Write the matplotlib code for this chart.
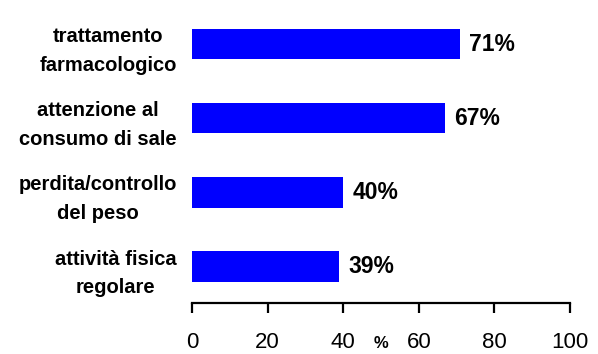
import matplotlib
matplotlib.use("Agg")
import matplotlib.pyplot as plt

# data, bottom to top
categories = ["attività fisica\nregolare", "perdita/controllo\ndel peso",
              "attenzione al\nconsumo di sale", "trattamento\nfarmacologico"]
values = [39, 40, 67, 71]
xticks = [0, 20, 40, 60, 80, 100]

plt.rcParams["font.family"] = ["Liberation Sans", "DejaVu Sans"]

fig = plt.figure(figsize=(5.98, 3.54), dpi=100)
ax = fig.add_axes([192 / 598, 51 / 354, 378 / 598, 296 / 354])

pos = range(len(values))
ax.barh(pos, values, height=0.41, color="#0000FF")

for p, v in zip(pos, values):
    ax.text(v + 2.4, p, f"{v}%", va="center", ha="left",
            fontsize=16.5, fontweight="bold")

ax.set_xlim(0, 100)
ax.set_ylim(-0.49, 3.5)
ax.set_xticks(xticks)
ax.set_xticklabels([str(t) for t in xticks], fontsize=16)
ax.set_yticks(list(pos))
ax.set_yticklabels(categories, fontsize=14.5, fontweight="bold",
                   multialignment="center", linespacing=1.65)

for side in ["left", "right", "top"]:
    ax.spines[side].set_visible(False)
ax.spines["bottom"].set_linewidth(1.6)
ax.tick_params(axis="y", length=0, pad=11)
ax.tick_params(axis="x", direction="out", length=7, width=1.6, pad=14)

# axis unit label sits between the 40 and 60 ticks
ax.text(50, -0.93, "%", ha="center", va="top",
        fontsize=12, fontweight="bold")

fig.savefig("out.png", dpi=100)
